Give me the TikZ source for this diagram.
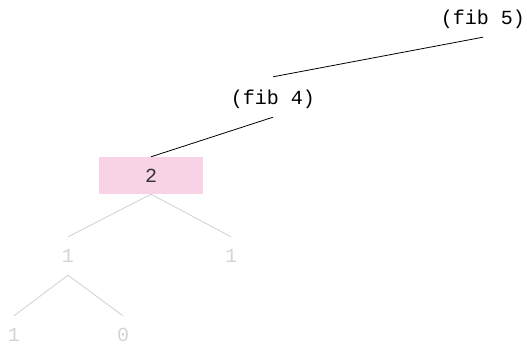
\documentclass[tikz,border=0pt]{standalone}
\usepackage{fontspec}
\setmonofont{Liberation Mono}
\definecolor{pinkfill}{HTML}{F8D3E5}
\definecolor{fade}{HTML}{D4D4D4}
\definecolor{fadeline}{HTML}{D0D0D0}
\begin{document}
\begin{tikzpicture}[x=1pt,y=-1pt,
  lbl/.style={font=\ttfamily\fontsize{20}{20}\selectfont, inner sep=0pt, minimum height=40pt, text depth=0pt},
  faded/.style={lbl, text=fade, minimum height=38pt},
  edge/.style={draw=black, line width=0.8pt},
  fadeedge/.style={draw=fadeline, line width=0.8pt}]
\useasboundingbox (0,0) rectangle (527,343);
\node[lbl] (f5) at (483,17) {(fib 5)};
\node[lbl] (f4) at (273,97) {(fib 4)};
\node[lbl, fill=pinkfill, minimum width=104pt, minimum height=37pt, text=black!80] (b2) at (151,175.5) {2};
\node[faded] (l1) at (68,256) {1};
\node[faded] (r1) at (231,256) {1};
\node[faded] (ll) at (14,335) {1};
\node[faded] (lr) at (123,335) {0};
\draw[edge] (f5.south) -- (f4.north);
\draw[edge] (f4.south) -- (b2.north);
\draw[fadeedge] (b2.south) -- (l1.north);
\draw[fadeedge] (b2.south) -- (r1.north);
\draw[fadeedge] (l1.south) -- (ll.north);
\draw[fadeedge] (l1.south) -- (lr.north);
\end{tikzpicture}
\end{document}
